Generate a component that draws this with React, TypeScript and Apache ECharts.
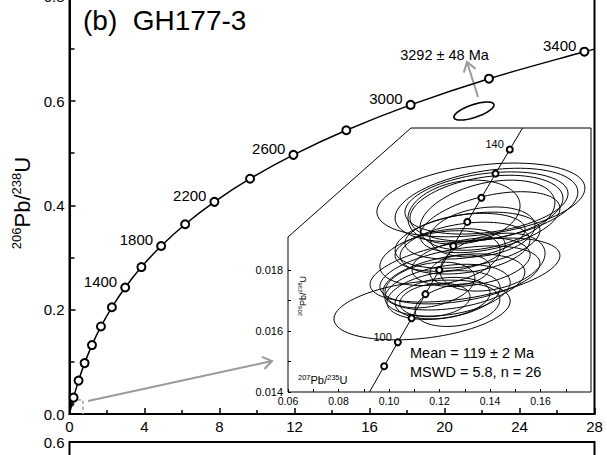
import React, { useEffect, useRef } from 'react';
import * as echarts from 'echarts';

// vertical shift of the chart div (the reference is cropped at the top)
const OFF = 20;
const FONT = 'Liberation Sans, Arial, sans-serif';

// ---- main concordia (207Pb/235U vs 206Pb/238U), ages in Ma ----
const mainAges = [0, 200, 400, 600, 800, 1000, 1200, 1400, 1600, 1800, 2000, 2200, 2400, 2600, 2800, 3000, 3200, 3400, 3419];
const mainX = [0, 0.2177, 0.4828, 0.8057, 1.1988, 1.6774, 2.2603, 2.9701, 3.8342, 4.8869, 6.1685, 7.7292, 9.6294, 11.9431, 14.7617, 18.1931, 22.3715, 27.4594, 28.0];
const mainY = [0, 0.03151, 0.06402, 0.09754, 0.13214, 0.16782, 0.2046, 0.24256, 0.28171, 0.3221, 0.36377, 0.40674, 0.45107, 0.49679, 0.54396, 0.59261, 0.6428, 0.69456, 0.6995];
const mainLabeled = [1400, 1800, 2200, 2600, 3000, 3400];

// ---- inset concordia ----
const insetAges = [89.6, 95, 100, 105, 110, 115, 120, 125, 130, 135, 140, 144.4];
const insetX = [0.09227, 0.09808, 0.1035, 0.10895, 0.11442, 0.11992, 0.12545, 0.13101, 0.13659, 0.14219, 0.14784, 0.15289];
const insetY = [0.014, 0.014846, 0.015633, 0.016422, 0.01721, 0.017999, 0.018789, 0.01958, 0.020371, 0.021163, 0.021955, 0.02266];
const insetLabeled = [100, 140];

// ---- error ellipses: [cx, cy, sx, sy, rho] ----
const insetEllipses: number[][] = [
  [0.1364, 0.0203, 0.0412, 0.00121, 0.32],
  [0.1386, 0.02013, 0.0362, 0.00121, 0.35],
  [0.1386, 0.0202, 0.0323, 0.00102, 0.3],
  [0.1386, 0.02003, 0.0303, 0.00108, 0.3],
  [0.139, 0.0198, 0.0267, 0.00115, 0.35],
  [0.1297, 0.0199, 0.0222, 0.00105, 0.2],
  [0.1311, 0.01898, 0.0287, 0.00092, 0.35],
  [0.1301, 0.01872, 0.0257, 0.00085, 0.3],
  [0.1301, 0.01911, 0.0238, 0.00075, 0.3],
  [0.137, 0.01925, 0.0208, 0.00082, 0.25],
  [0.1202, 0.01839, 0.0238, 0.0009, 0.3],
  [0.1325, 0.01826, 0.0234, 0.0008, 0.3],
  [0.1242, 0.01866, 0.0218, 0.0007, 0.25],
  [0.1281, 0.01784, 0.0317, 0.00095, 0.4],
  [0.1257, 0.01761, 0.0281, 0.00092, 0.35],
  [0.1232, 0.01734, 0.0248, 0.00085, 0.3],
  [0.1216, 0.01718, 0.0224, 0.0008, 0.3],
  [0.1212, 0.01708, 0.0188, 0.00068, 0.25],
  [0.1182, 0.01702, 0.0139, 0.00055, 0.2],
  [0.1162, 0.01751, 0.0178, 0.00075, 0.3],
  [0.1131, 0.01669, 0.0349, 0.00098, 0.3],
  [0.1301, 0.018, 0.0376, 0.00105, 0.45],
  [0.14, 0.01957, 0.0277, 0.001, 0.45],
  [0.141, 0.01826, 0.0208, 0.00095, 0.3],
  [0.1281, 0.018, 0.0119, 0.0005, 0.2],
  [0.1271, 0.01685, 0.0168, 0.0007, 0.25],
];
const mainEllipse: number[][] = [[21.57, 0.5808, 1.07, 0.0173, 0.67]];

// ---- annotations (data coordinates of the main panel) ----
const zoomArrow: number[][] = [[0.99, 0.025, 10.8, 0.1016]];
const ageArrow: number[][] = [[21.79, 0.6076, 21.2, 0.6747]];
const originBox: number[][] = [[0.13, 0.027], [0.72, 0.027], [0.72, 0]];
const originCluster: number[][] = [[0.13, 0.019]];

// ---- tick values ----
const mainXTicks = { min: 0, max: 28, interval: 4 };
const mainYTicks = { min: 0, max: 0.8, interval: 0.2 };
const insetXLabels = [0.06, 0.08, 0.1, 0.12, 0.14, 0.16];
const insetXTickVals = [0.06, 0.07, 0.08, 0.09, 0.1, 0.11, 0.12, 0.13, 0.14, 0.15, 0.16, 0.17];
const insetYLabels = [0.014, 0.016, 0.018];
const insetYTickVals = [0.014, 0.015, 0.016, 0.017, 0.018];
const lowerYLabels = [0.6];

const meanText = 'Mean = 119 ± 2 Ma';
const mswdText = 'MSWD = 5.8, n = 26';
const ageText = '3292 ± 48 Ma';

function ellipseRender(lw: number) {
  return (params: any, api: any) => {
    const cx = api.value(0), cy = api.value(1), sx = api.value(2), sy = api.value(3), r = api.value(4);
    const k = Math.sqrt(1 - r * r);
    const pts: number[][] = [];
    for (let i = 0; i <= 90; i++) {
      const t = (i / 90) * Math.PI * 2;
      const c = Math.cos(t), s = Math.sin(t);
      pts.push(api.coord([cx + sx * c, cy + sy * (r * c + k * s)]));
    }
    return {
      type: 'polygon',
      shape: { points: pts },
      style: { fill: 'none', stroke: '#000', lineWidth: lw },
    };
  };
}

function arrowRender(params: any, api: any) {
  const p1 = api.coord([api.value(0), api.value(1)]);
  const p2 = api.coord([api.value(2), api.value(3)]);
  const ang = Math.atan2(p2[1] - p1[1], p2[0] - p1[0]);
  const L = 11, a = 0.6;
  const a1 = [p2[0] - L * Math.cos(ang - a), p2[1] - L * Math.sin(ang - a)];
  const a2 = [p2[0] - L * Math.cos(ang + a), p2[1] - L * Math.sin(ang + a)];
  return {
    type: 'group',
    children: [
      { type: 'line', shape: { x1: p1[0], y1: p1[1], x2: p2[0], y2: p2[1] }, style: { stroke: '#9a9a9a', lineWidth: 2 } },
      { type: 'polyline', shape: { points: [a1, p2, a2] }, style: { stroke: '#9a9a9a', lineWidth: 2, fill: 'none' } },
    ],
  };
}

export default function App() {
  const ref = useRef<HTMLDivElement>(null);
  useEffect(() => {
    if (!ref.current) return;
    const chart = echarts.init(ref.current, undefined, { renderer: 'svg' });

    const mainData = mainAges.map((age, i) => {
      const item: any = { value: [mainX[i], mainY[i]] };
      if (i === 0 || i === mainAges.length - 1) item.symbol = 'none';
      if (mainLabeled.includes(age)) {
        item.label = { show: true, formatter: String(age) };
      }
      return item;
    });
    const insetData = insetAges.map((age, i) => {
      const item: any = { value: [insetX[i], insetY[i]] };
      if (i === 0 || i === insetAges.length - 1) item.symbol = 'none';
      if (insetLabeled.includes(age)) {
        item.label = { show: true, formatter: String(age) };
      }
      return item;
    });

    const tickStyle = { color: '#000', width: 1.5 };
    const insetTop = 128 + OFF;
    const insetBottom = 392 + OFF;
    const insetLeft = 288;
    const insetRight = 591;

    const option: any = {
      animation: false,
      textStyle: { fontFamily: FONT },
      grid: [
        { left: 69.5, top: -3.3 + OFF, width: 525, height: 417.3, show: true, borderColor: '#000', borderWidth: 2 },
        { left: insetLeft, top: insetTop, width: insetRight - insetLeft, height: insetBottom - insetTop },
        { left: 69.5, top: 442 + OFF, width: 525, height: 300, show: true, borderColor: '#000', borderWidth: 2 },
      ],
      xAxis: [
        {
          gridIndex: 0, type: 'value', ...mainXTicks,
          axisLine: { show: true, lineStyle: { color: '#000', width: 2 } },
          axisTick: { inside: true, length: 6, lineStyle: tickStyle },
          minorTick: { show: true, splitNumber: 2, length: 4, lineStyle: tickStyle },
          axisLabel: { color: '#000', fontSize: 15, margin: 5, fontFamily: FONT },
          splitLine: { show: false },
        },
        {
          gridIndex: 1, type: 'value', min: 0.06, max: 0.18, interval: 0.02, z: 10,
          axisLine: { show: false },
          axisTick: { inside: true, length: 3, lineStyle: { color: '#000', width: 1 }, customValues: insetXTickVals },
          axisLabel: { color: '#000', fontSize: 10.5, margin: 3, fontFamily: FONT, customValues: insetXLabels, formatter: (v: number) => v.toFixed(2) },
          splitLine: { show: false },
        },
        { gridIndex: 2, type: 'value', min: 0, max: 28, show: false },
      ],
      yAxis: [
        {
          gridIndex: 0, type: 'value', ...mainYTicks,
          axisLine: { show: true, lineStyle: { color: '#000', width: 2 } },
          axisTick: { inside: true, length: 6, lineStyle: tickStyle },
          minorTick: { show: true, splitNumber: 2, length: 5, lineStyle: tickStyle },
          axisLabel: { color: '#000', fontSize: 15, margin: 5, fontFamily: FONT, formatter: (v: number) => v.toFixed(1) },
          splitLine: { show: false },
        },
        {
          gridIndex: 1, type: 'value', min: 0.014, max: 0.02266, z: 10,
          axisLine: { show: false },
          axisTick: { inside: true, length: 3, lineStyle: { color: '#000', width: 1 }, customValues: insetYTickVals },
          axisLabel: { color: '#000', fontSize: 11, margin: 5, fontFamily: FONT, customValues: insetYLabels, formatter: (v: number) => v.toFixed(3) },
          splitLine: { show: false },
        },
        {
          gridIndex: 2, type: 'value', min: 0, max: 0.6, interval: 0.2,
          axisLine: { show: false },
          axisTick: { show: false },
          axisLabel: { color: '#000', fontSize: 15, margin: 5, fontFamily: FONT, customValues: lowerYLabels, formatter: (v: number) => v.toFixed(1) },
          splitLine: { show: false },
        },
      ],
      graphic: [
        {
          type: 'polygon', z: 5,
          shape: { points: [[411, insetTop], [insetRight, insetTop], [insetRight, insetBottom], [insetLeft, insetBottom], [insetLeft, 237 + OFF]] },
          style: { fill: '#fff', stroke: '#000', lineWidth: 1 },
        },
        {
          type: 'text', x: 83, y: 20 + OFF, z: 20,
          style: { text: '(b)  GH177-3', fontSize: 28, fontFamily: FONT, fill: '#000', verticalAlign: 'middle' },
        },
        {
          type: 'text', x: 83, y: 467 + OFF, z: 20,
          style: { text: '(c)', fontSize: 28, fontFamily: FONT, fill: '#000', verticalAlign: 'middle' },
        },
        {
          type: 'text', x: 22, y: 203 + OFF, rotation: Math.PI / 2, z: 20,
          style: {
            text: '{s|206}{m|Pb/}{s|238}{m|U}', align: 'center', verticalAlign: 'middle', fill: '#000',
            rich: {
              s: { fontSize: 13, fontFamily: FONT, lineHeight: 24, padding: [0, 0, 12, 0] },
              m: { fontSize: 22, fontFamily: FONT, lineHeight: 24 },
            },
          },
        },
        {
          type: 'text', x: 302.5, y: 296 + OFF, rotation: Math.PI / 2, z: 20,
          style: {
            text: '{s|206}{m|Pb/}{s|238}{m|U}', align: 'center', verticalAlign: 'middle', fill: '#000',
            rich: {
              s: { fontSize: 6, fontFamily: FONT, lineHeight: 11, padding: [0, 0, 5, 0] },
              m: { fontSize: 9, fontFamily: FONT, lineHeight: 11 },
            },
          },
        },
        {
          type: 'text', x: 298, y: 380 + OFF, z: 20,
          style: {
            text: '{s|207}{m|Pb/}{s|235}{m|U}', align: 'left', verticalAlign: 'middle', fill: '#000',
            rich: {
              s: { fontSize: 7.5, fontFamily: FONT, lineHeight: 13, padding: [0, 0, 6, 0] },
              m: { fontSize: 11, fontFamily: FONT, lineHeight: 13 },
            },
          },
        },
        {
          type: 'text', x: 410, y: 353 + OFF, z: 20,
          style: { text: meanText, fontSize: 14.5, fontFamily: FONT, fill: '#000', verticalAlign: 'middle' },
        },
        {
          type: 'text', x: 410, y: 372 + OFF, z: 20,
          style: { text: mswdText, fontSize: 14.5, fontFamily: FONT, fill: '#000', verticalAlign: 'middle' },
        },
        {
          type: 'text', x: 444.5, y: 55 + OFF, z: 20,
          style: { text: ageText, fontSize: 14.5, fontFamily: FONT, fill: '#000', align: 'center', verticalAlign: 'middle' },
        },
      ],
      series: [
        {
          type: 'line', xAxisIndex: 0, yAxisIndex: 0, z: 2,
          data: mainData, smooth: 0.35,
          symbol: 'emptyCircle', symbolSize: 8, showAllSymbol: true,
          lineStyle: { color: '#000', width: 1.5 },
          itemStyle: { color: '#000', borderColor: '#000', borderWidth: 1.3 },
          label: { position: 'left', distance: 3, offset: [0, -6], color: '#000', fontSize: 15, fontFamily: FONT },
        },
        {
          type: 'line', xAxisIndex: 0, yAxisIndex: 0, z: 2,
          data: originBox, symbol: 'none',
          lineStyle: { color: '#9a9a9a', width: 1.5, type: [3, 3] },
        },
        {
          type: 'scatter', xAxisIndex: 0, yAxisIndex: 0, z: 3,
          data: originCluster, symbolSize: 5, itemStyle: { color: '#000' },
        },
        {
          type: 'custom', xAxisIndex: 0, yAxisIndex: 0, z: 2,
          data: mainEllipse, renderItem: ellipseRender(1.6), encode: { x: 0, y: 1 },
        },
        {
          type: 'custom', xAxisIndex: 0, yAxisIndex: 0, z: 2,
          data: zoomArrow.concat(ageArrow), renderItem: arrowRender, encode: { x: [0, 2], y: [1, 3] },
        },
        {
          type: 'custom', xAxisIndex: 1, yAxisIndex: 1, z: 10,
          data: insetEllipses, renderItem: ellipseRender(1), encode: { x: 0, y: 1 },
        },
        {
          type: 'line', xAxisIndex: 1, yAxisIndex: 1, z: 11,
          data: insetData, smooth: false,
          symbol: 'emptyCircle', symbolSize: 6, showAllSymbol: true,
          lineStyle: { color: '#000', width: 1 },
          itemStyle: { color: '#000', borderColor: '#000', borderWidth: 1 },
          label: { position: 'left', distance: 2, offset: [0, -5], color: '#000', fontSize: 11, fontFamily: FONT },
        },
      ],
    };
    chart.setOption(option);
    return () => chart.dispose();
  }, []);

  return (
    <div
      ref={ref}
      style={{ position: 'absolute', left: 0, top: -OFF, width: 607, height: 455 + OFF, background: '#fff' }}
    />
  );
}
